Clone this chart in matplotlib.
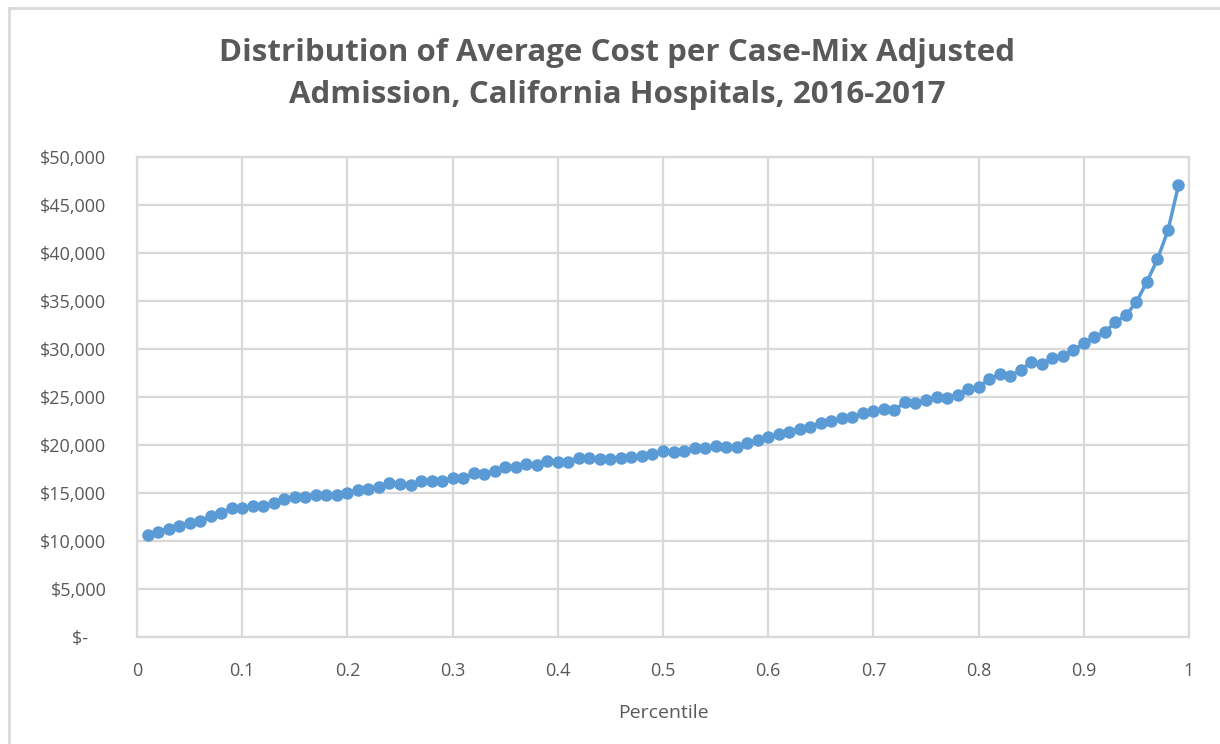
import matplotlib
matplotlib.use("Agg")
import matplotlib.pyplot as plt
from matplotlib.lines import Line2D
from matplotlib.ticker import FuncFormatter

# percentile of hospitals and their average cost per case-mix adjusted admission
percentile = [round(0.01 * i, 2) for i in range(1, 100)]
cost = [
    10600, 10950, 11300, 11550, 11850, 12100, 12600, 12900, 13400, 13400,
    13650, 13650, 13950, 14350, 14600, 14600, 14800, 14800, 14800, 15000,
    15350, 15400, 15600, 16000, 15900, 15800, 16250, 16250, 16250, 16550,
    16550, 17050, 17000, 17300, 17700, 17700, 18000, 17900, 18300, 18250,
    18250, 18650, 18650, 18550, 18550, 18600, 18750, 18850, 19050, 19350,
    19300, 19400, 19700, 19700, 19900, 19800, 19800, 20200, 20500, 20800,
    21150, 21350, 21650, 21900, 22300, 22500, 22800, 22900, 23300, 23550,
    23800, 23650, 24450, 24350, 24700, 25000, 24900, 25200, 25800, 26050,
    26850, 27400, 27200, 27800, 28650, 28400, 29050, 29300, 29850, 30600,
    31250, 31750, 32800, 33500, 34900, 37000, 39350, 42350, 47050,
]
x_ticks = [0, 0.1, 0.2, 0.3, 0.4, 0.5, 0.6, 0.7, 0.8, 0.9, 1]
y_ticks = list(range(0, 50001, 5000))

title = "Distribution of Average Cost per Case-Mix Adjusted\nAdmission, California Hospitals, 2016-2017"
blue = "#5b9bd5"
text_grey = "#595959"
grid_grey = "#d9d9d9"

plt.rcParams["font.family"] = ["Open Sans", "DejaVu Sans"]

fig = plt.figure(figsize=(12.2, 7.44), dpi=100)
ax = fig.add_axes([137 / 1220, 1 - 637 / 744, 1052 / 1220, 480 / 744])

ax.plot(percentile, cost, color=blue, linewidth=2.5, marker="o",
        markersize=8, zorder=3)

ax.set_xlim(0, 1)
ax.set_ylim(0, 50000)
ax.set_xticks(x_ticks)
ax.set_xticklabels([f"{t:g}" for t in x_ticks])
ax.set_yticks(y_ticks)


def money(v, pos):
    if v == 0:
        return "$-    "
    return f"${v:,.0f}"


ax.yaxis.set_major_formatter(FuncFormatter(money))
ax.grid(True, color=grid_grey, linewidth=1.6)
ax.set_axisbelow(True)
for s in ax.spines.values():
    s.set_color(grid_grey)
    s.set_linewidth(1.6)
ax.tick_params(length=0, labelsize=13, labelcolor=text_grey)
ax.tick_params(axis="y", pad=22)
ax.tick_params(axis="x", pad=18)

ax.set_xlabel("Percentile", fontsize=14, color=text_grey, labelpad=17)
fig.text(0.506, 1 - 74 / 744, title, ha="center", va="center",
         fontsize=22.5, fontweight="bold", color=text_grey, linespacing=1.5)

# chart area border (left and top edges visible)
fig.add_artist(Line2D([9 / 1220, 9 / 1220], [0, 1 - 8 / 744],
                      transform=fig.transFigure, color=grid_grey, linewidth=2))
fig.add_artist(Line2D([9 / 1220, 1], [1 - 8 / 744, 1 - 8 / 744],
                      transform=fig.transFigure, color=grid_grey, linewidth=2))

fig.savefig("out.png", dpi=100)
